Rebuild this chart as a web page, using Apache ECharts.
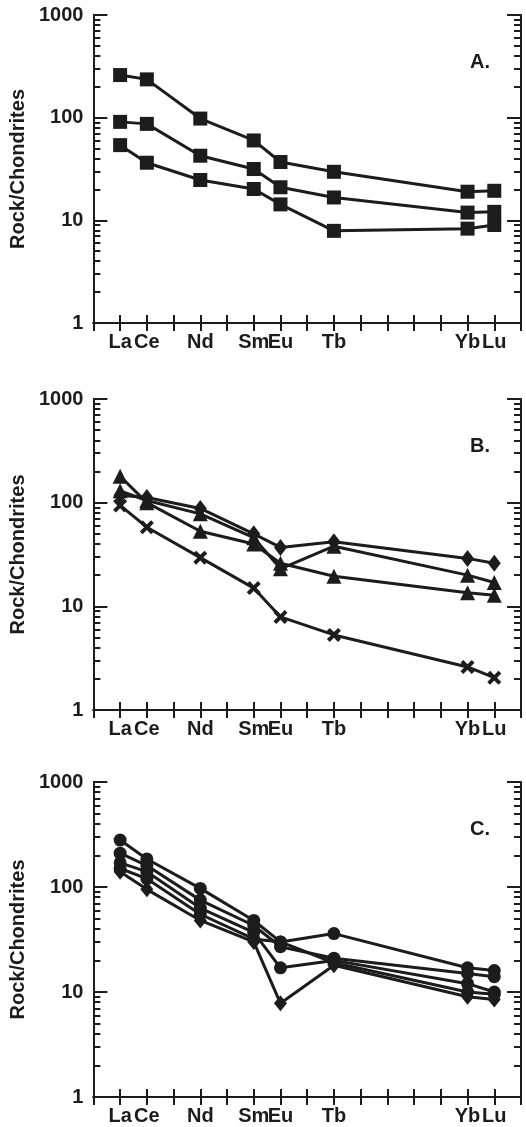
<!DOCTYPE html>
<html>
<head>
<meta charset="utf-8">
<script src="https://cdn.jsdelivr.net/npm/echarts@6/dist/echarts.min.js"></script>
<style>
  html, body { margin: 0; padding: 0; background: #fff; }
  #chart { width: 526px; height: 1127px; }
</style>
</head>
<body>
<div id="chart"></div>
<script>
// REE patterns, chondrite normalised
var elements = ['La', 'Ce', 'Nd', 'Sm', 'Eu', 'Tb', 'Yb', 'Lu'];
var atomicNo = [57, 58, 60, 62, 63, 65, 70, 71];

// panel A (squares)
var aS1 = [260, 236, 98, 60, 37, 29.7, 19, 19.4];
var aS2 = [91, 87, 42.6, 31.6, 21, 16.7, 11.9, 12.1];
var aS3 = [54, 36.4, 24.7, 20.2, 14.3, 7.9, 8.3, 9.0];

// panel B
var bDiamond = [118, 112, 88, 50, 37, 42, 29, 26];
var bTri1 = [130, 105, 78, 46, 23, 38, 20, 17];
var bTri2 = [180, 100, 53, 40, 26, 19.5, 13.5, 12.8];
var bCross = [94, 58, 29.5, 15, 7.9, 5.3, 2.6, 2.05];

// panel C
var cCirc1 = [280, 185, 97, 48, 30, 36, 17, 16];
var cCirc2 = [210, 160, 75, 43, 27, 21, 15, 14];
var cCirc3 = [170, 140, 63, 37, 17, 20, 12, 10];
var cCirc4 = [150, 120, 55, 32, 30, 19, 10, 9.5];
var cDiam = [140, 95, 48, 30, 7.8, 18, 9, 8.5];

var panelLetters = ['A.', 'B.', 'C.'];
var yTicks = [1, 10, 100, 1000];

var ink = '#1c1c1c';
var font = '"Liberation Sans", Arial, Helvetica, sans-serif';
var crossPath = 'path://M2,0 L5,3 L8,0 L10,2 L7,5 L10,8 L8,10 L5,7 L2,10 L0,8 L3,5 L0,2 Z';

var majorPos = yTicks.map(function (v) { return Math.log10(v); });
var minorPos = [];
for (var d = 0; d < 3; d++) {
  for (var k = 2; k <= 9; k++) minorPos.push(d + Math.log10(k));
}

var grids = [
  { left: 85, top: 15, width: 436, height: 308 },
  { left: 85, top: 399, width: 436, height: 311 },
  { left: 85, top: 782, width: 436, height: 315 }
];

var xAxes = [], yAxes = [], graphics = [];
grids.forEach(function (g, gi) {
  xAxes.push({
    type: 'value', gridIndex: gi, position: 'bottom', min: 56, max: 72, interval: 1,
    axisLine: { lineStyle: { color: ink, width: 2 } },
    axisTick: { inside: true, length: 8, lineStyle: { color: ink, width: 2 } },
    axisLabel: {
      margin: 9, color: ink, fontSize: 20, fontWeight: 'bold', fontFamily: font,
      formatter: function (v) {
        var i = atomicNo.indexOf(v);
        return i >= 0 ? elements[i] : '';
      }
    },
    splitLine: { show: false }
  });
  xAxes.push({
    type: 'value', gridIndex: gi, position: 'top', min: 56, max: 72, interval: 1,
    axisLine: { lineStyle: { color: ink, width: 2 } },
    axisTick: { inside: true, length: 8, lineStyle: { color: ink, width: 2 } },
    axisLabel: { show: false },
    splitLine: { show: false }
  });
  yAxes.push({
    type: 'log', logBase: 10, gridIndex: gi, position: 'left', min: 1, max: 1000,
    name: 'Rock/Chondrites', nameLocation: 'middle', nameGap: 58,
    nameTextStyle: { color: ink, fontSize: 20, fontWeight: 'bold', fontFamily: font },
    axisLine: { lineStyle: { color: ink, width: 2 } },
    axisTick: { inside: true, length: 14, lineStyle: { color: ink, width: 2 } },
    axisLabel: {
      margin: 10, color: ink, fontSize: 20, fontWeight: 'bold', fontFamily: font,
      formatter: function (v) { return String(Math.round(v)); }
    },
    splitLine: { show: false }
  });
  yAxes.push({
    type: 'value', gridIndex: gi, position: 'left', min: 0, max: 3,
    axisLine: { show: false },
    axisTick: { inside: true, length: 7, customValues: minorPos, lineStyle: { color: ink, width: 2 } },
    axisLabel: { show: false },
    splitLine: { show: false }
  });
  yAxes.push({
    type: 'value', gridIndex: gi, position: 'right', min: 0, max: 3,
    axisLine: { show: true, lineStyle: { color: ink, width: 2 } },
    axisTick: { inside: true, length: 14, customValues: majorPos, lineStyle: { color: ink, width: 2 } },
    axisLabel: { show: false },
    splitLine: { show: false }
  });
  yAxes.push({
    type: 'value', gridIndex: gi, position: 'right', min: 0, max: 3,
    axisLine: { show: false },
    axisTick: { inside: true, length: 7, customValues: minorPos, lineStyle: { color: ink, width: 2 } },
    axisLabel: { show: false },
    splitLine: { show: false }
  });
  graphics.push({
    type: 'text', left: 470, top: g.top + 37,
    style: { text: panelLetters[gi], fill: ink, font: 'bold 20px ' + font }
  });
});

function mkSeries(arr, gi, symbol, size) {
  return {
    type: 'line', xAxisIndex: gi * 2, yAxisIndex: gi * 4,
    data: atomicNo.map(function (x, i) { return [x, arr[i]]; }),
    symbol: symbol, symbolSize: size, showSymbol: true,
    lineStyle: { color: ink, width: 3 },
    itemStyle: { color: ink, opacity: 1 },
    emphasis: { disabled: true },
    z: 3
  };
}

var series = [
  mkSeries(aS1, 0, 'rect', 14),
  mkSeries(aS2, 0, 'rect', 14),
  mkSeries(aS3, 0, 'rect', 14),
  mkSeries(bDiamond, 1, 'diamond', [13, 17]),
  mkSeries(bTri1, 1, 'triangle', 15),
  mkSeries(bTri2, 1, 'triangle', 15),
  mkSeries(bCross, 1, crossPath, 14),
  mkSeries(cCirc1, 2, 'circle', 13),
  mkSeries(cCirc2, 2, 'circle', 13),
  mkSeries(cCirc3, 2, 'circle', 13),
  mkSeries(cCirc4, 2, 'circle', 13),
  mkSeries(cDiam, 2, 'diamond', [13, 16])
];

var chart = echarts.init(document.getElementById('chart'));
chart.setOption({
  animation: false,
  backgroundColor: '#fff',
  grid: grids,
  xAxis: xAxes,
  yAxis: yAxes,
  series: series,
  graphic: graphics
});
</script>
</body>
</html>
